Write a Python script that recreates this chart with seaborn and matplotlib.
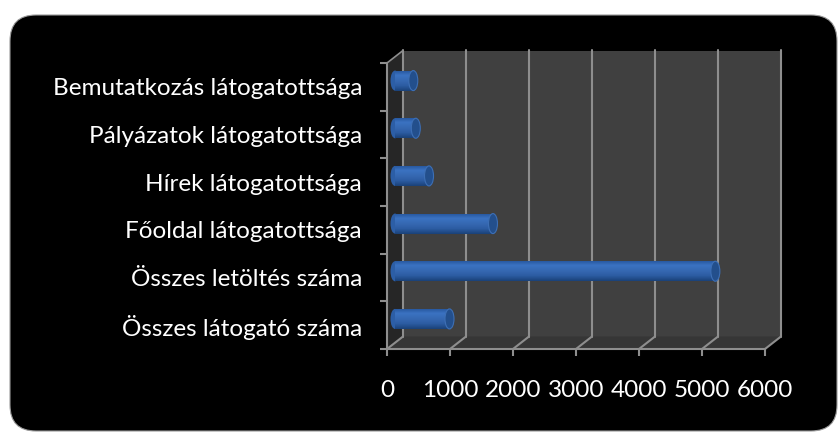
import numpy as np
import pandas as pd
import matplotlib
matplotlib.use("Agg")
import matplotlib.pyplot as plt
import matplotlib.patches as mpatches
from matplotlib.transforms import ScaledTranslation, IdentityTransform
from matplotlib.colors import LinearSegmentedColormap
import seaborn as sns

categories = [
    "Bemutatkozás látogatottsága",
    "Pályázatok látogatottsága",
    "Hírek látogatottsága",
    "Főoldal látogatottsága",
    "Összes letöltés száma",
    "Összes látogató száma",
]
values = [290, 330, 540, 1555, 5085, 865]
xticks = [0, 1000, 2000, 3000, 4000, 5000, 6000]

sns.set_theme(style="white")
plt.rcParams["font.family"] = ["Lato", "DejaVu Sans"]

DPI = 100
W, H = 838, 432
fig = plt.figure(figsize=(W / DPI, H / DPI), dpi=DPI)
fig.patch.set_facecolor("white")

# black rounded background (pixel coords)
bg = mpatches.FancyBboxPatch((10, 1), 827, 416,
                             boxstyle="round,pad=0,rounding_size=26",
                             transform=IdentityTransform(),
                             fc="black", ec="#9a9a9a", lw=0.8, zorder=-10)
fig.add_artist(bg)

ax = fig.add_axes([387 / W, 83 / H, 378 / W, 286 / H])
ax.set_facecolor("none")
ax.patch.set_alpha(0)

df = pd.DataFrame({"cat": categories, "val": values})
sns.barplot(data=df, x="val", y="cat", orient="h", width=0.42,
            color="#2e62a8", saturation=1, ax=ax, zorder=5)
bars = [p for p in ax.patches if isinstance(p, mpatches.Rectangle)]

ax.set_xlim(0, 6000)
ax.set_ylim(5.5, -0.5)

# depth offsets
DX, DY = 16, 12.5
back = ax.transData + ScaledTranslation(DX / DPI, DY / DPI, fig.dpi_scale_trans)
half = ax.transData + ScaledTranslation(DX / 2 / DPI, DY / 2 / DPI, fig.dpi_scale_trans)

grid_c = "#8e8e8e"
y_top, y_bot = -0.5, 5.5

# back wall
ax.add_patch(mpatches.Rectangle((0, y_top), 6000, 6, transform=back,
                                fc="#404040", ec="none", zorder=1, clip_on=False))

def disp(pt, t):
    return t.transform(pt)

# floor
fl = [disp((0, y_bot), ax.transData), disp((6000, y_bot), ax.transData),
      disp((6000, y_bot), back), disp((0, y_bot), back)]
ax.add_patch(mpatches.Polygon(fl, closed=True, transform=IdentityTransform(),
                              fc="#363636", ec="none", zorder=1, clip_on=False))
# left side wall
sw = [disp((0, y_top), ax.transData), disp((0, y_bot), ax.transData),
      disp((0, y_bot), back), disp((0, y_top), back)]
ax.add_patch(mpatches.Polygon(sw, closed=True, transform=IdentityTransform(),
                              fc="#262626", ec="none", zorder=1, clip_on=False))

# grid lines on back wall and floor
for xv in xticks:
    ax.plot([xv, xv], [y_top, y_bot], transform=back, color=grid_c, lw=1.5,
            zorder=2, clip_on=False)
    p0 = disp((xv, y_bot), ax.transData)
    p1 = disp((xv, y_bot), back)
    ax.add_line(plt.Line2D([p0[0], p1[0]], [p0[1], p1[1]],
                           transform=IdentityTransform(), color=grid_c,
                           lw=1.5, zorder=2, clip_on=False))
# top-left depth edge
p0 = disp((0, y_top), ax.transData)
p1 = disp((0, y_top), back)
ax.add_line(plt.Line2D([p0[0], p1[0]], [p0[1], p1[1]],
                       transform=IdentityTransform(), color=grid_c,
                       lw=1.2, zorder=2, clip_on=False))

# cylinder style bars
cmap = LinearSegmentedColormap.from_list(
    "cyl", ["#24549a", "#3b73c2", "#3669b3", "#2c5ca2", "#1a4279"])
grad = np.linspace(0, 1, 64).reshape(-1, 1)
px_per_val = 378 / 6000
cap_w = 9 / px_per_val
for patch in bars:
    x0, y0 = patch.get_x(), patch.get_y()
    w, h = patch.get_width(), patch.get_height()
    if w <= 0:
        continue
    patch.set_transform(half)
    patch.set_clip_on(False)
    patch.set_edgecolor("none")
    im = ax.imshow(grad, cmap=cmap, aspect="auto", extent=[x0, x0 + w, y0 + h, y0],
                   transform=half, zorder=6, interpolation="bilinear")
    im.set_clip_path(patch)
    # left rounded end
    ax.add_patch(mpatches.Ellipse((x0, y0 + h / 2), cap_w, h, transform=half,
                                  fc="#2c5ea6", ec="none", zorder=5.5, clip_on=False))
    # right end cap
    ax.add_patch(mpatches.Ellipse((x0 + w, y0 + h / 2), cap_w, h, transform=half,
                                  fc="#234f8c", ec="#3d6fb5", lw=0.8, zorder=7,
                                  clip_on=False))

ax.set_xlim(0, 6000)
ax.set_ylim(5.5, -0.5)

# axes styling
for s in ["top", "right"]:
    ax.spines[s].set_visible(False)
for s in ["left", "bottom"]:
    ax.spines[s].set_color(grid_c)
    ax.spines[s].set_linewidth(1.5)
    ax.spines[s].set_zorder(8)

ax.set_xticks(xticks)
ax.set_xticklabels([str(v) for v in xticks])
ax.tick_params(axis="x", colors=grid_c, labelcolor="white", length=5, width=1.5,
               pad=17, labelsize=17.5, direction="out", bottom=True)
ax.set_yticks(range(len(categories)))
ax.set_yticklabels(categories)
ax.tick_params(axis="y", which="major", length=0, pad=18, labelcolor="white",
               labelsize=17.5, left=True)
ax.set_yticks(np.arange(-0.5, 6.0, 1.0), minor=True)
ax.tick_params(axis="y", which="minor", length=5, width=1.5, color=grid_c,
               left=True, direction="out")
ax.set_xlabel("")
ax.set_ylabel("")
ax.grid(False)

fig.savefig("out.png", dpi=DPI, facecolor="white")
